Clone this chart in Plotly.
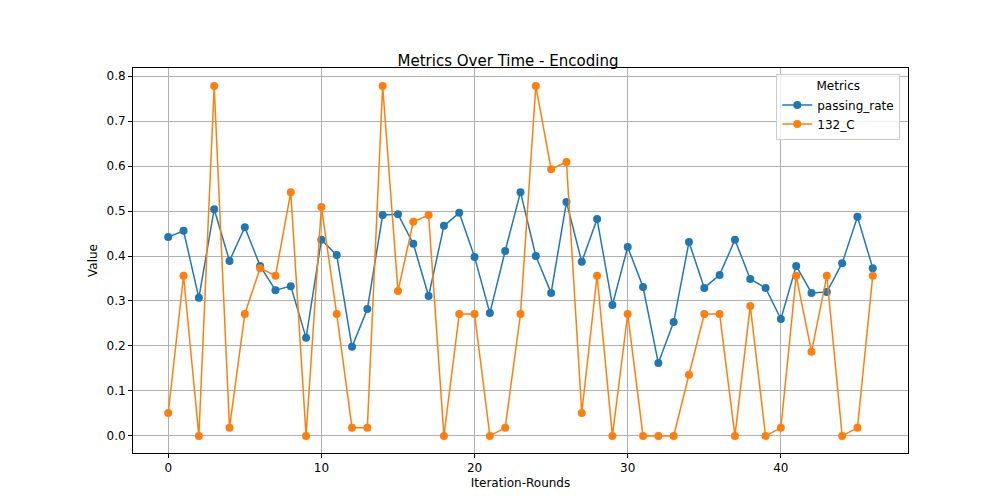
import plotly.graph_objects as go

rounds = list(range(47))
passing_rate = [0.442, 0.456, 0.307, 0.504, 0.389, 0.464, 0.378, 0.324, 0.333, 0.218,
                0.436, 0.402, 0.198, 0.282, 0.491, 0.493, 0.427, 0.311, 0.467, 0.496,
                0.398, 0.273, 0.411, 0.542, 0.400, 0.318, 0.520, 0.387, 0.482, 0.291,
                0.420, 0.331, 0.162, 0.253, 0.431, 0.329, 0.358, 0.436, 0.349, 0.329,
                0.260, 0.378, 0.318, 0.320, 0.384, 0.487, 0.373]
c132 = [0.051, 0.356, 0.0, 0.778, 0.018, 0.271, 0.373, 0.356, 0.542, 0.0,
        0.509, 0.271, 0.018, 0.018, 0.778, 0.322, 0.476, 0.491, 0.0, 0.271,
        0.271, 0.0, 0.018, 0.271, 0.778, 0.593, 0.609, 0.051, 0.356, 0.0,
        0.271, 0.0, 0.0, 0.0, 0.136, 0.271, 0.271, 0.0, 0.289, 0.0,
        0.018, 0.356, 0.187, 0.356, 0.0, 0.018, 0.356]

fig = go.Figure()
for name, ys, color in [("passing_rate", passing_rate, "#1f77b4"), ("132_C", c132, "#ff7f0e")]:
    fig.add_trace(go.Scatter(x=rounds, y=ys, name=name, mode="lines+markers",
                             line=dict(color=color, width=1.5),
                             marker=dict(color=color, size=8)))

axis = dict(showgrid=True, gridcolor="#b0b0b0", gridwidth=1, zeroline=False,
            showline=True, linecolor="black", mirror=True, ticks="outside",
            tickcolor="black", ticklen=4, automargin=False)
fig.update_layout(
    width=1000, height=500,
    margin=dict(l=125, r=100, t=60, b=55, autoexpand=False),
    plot_bgcolor="white", paper_bgcolor="white",
    font=dict(family="DejaVu Sans", size=12, color="black"),
    title=dict(text="Metrics Over Time - Encoding", x=0.5, xanchor="center",
               y=0.885, yanchor="bottom", font=dict(size=15)),
    xaxis=dict(axis, range=[-2.3, 48.3], tickvals=[0, 10, 20, 30, 40],
               title=dict(text="Iteration-Rounds", standoff=4, font=dict(size=12))),
    yaxis=dict(axis, range=[-0.038, 0.818], tickvals=[0, 0.1, 0.2, 0.3, 0.4, 0.5, 0.6, 0.7, 0.8],
               tickformat=".1f", title=dict(text="Value", standoff=6, font=dict(size=12))),
    legend=dict(title=dict(text="Metrics", side="top center", font=dict(size=12)),
                x=0.99, y=0.985, xanchor="right", yanchor="top",
                bordercolor="#cccccc", borderwidth=1, bgcolor="rgba(255,255,255,0.8)"),
)
fig.write_html("out.html")
